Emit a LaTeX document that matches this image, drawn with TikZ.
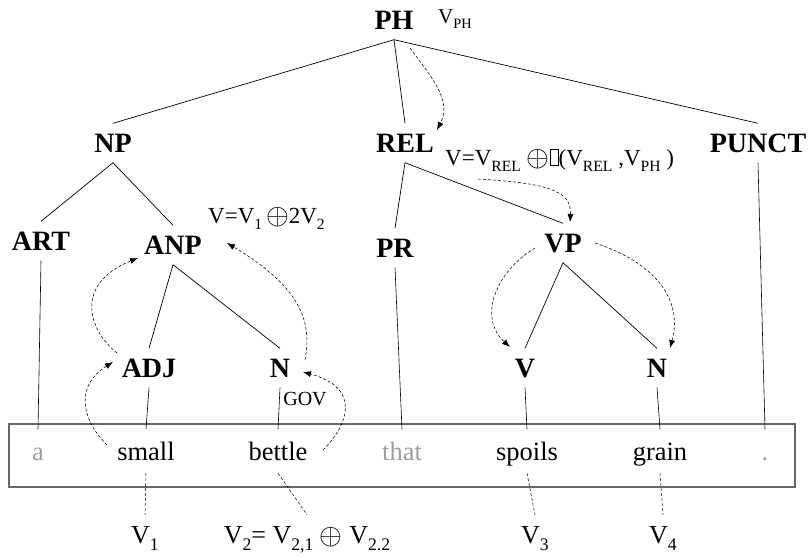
\documentclass[tikz,border=0pt]{standalone}
\usepackage{fontspec}
\setmainfont{Liberation Serif}
\usetikzlibrary{arrows.meta}
\definecolor{boxgray}{gray}{0.4}
\definecolor{wordgray}{gray}{0.62}
\newcommand{\dn}[1]{\raisebox{-0.28em}{\scalebox{0.68}{#1}}}
\newcommand{\opl}{\raisebox{-0.06em}{\scalebox{1.18}{$\oplus$}}}
\tikzset{
  cat/.style={font=\fontsize{28}{30}\selectfont\bfseries, text height=19pt, text depth=0pt, inner xsep=0pt, inner ysep=10pt},
  word/.style={font=\fontsize{26.5}{30}\selectfont, anchor=base, text height=18.5pt, text depth=1pt, inner xsep=0pt, inner ysep=12pt},
  val/.style={font=\fontsize{26}{30}\selectfont, anchor=base, text height=18pt, text depth=7pt, inner xsep=0pt, inner ysep=10pt},
  formula/.style={font=\fontsize{23}{26}\selectfont, anchor=base west, inner sep=0pt},
  tree/.style={line width=0.7pt},
  tie/.style={line width=0.6pt},
  flow/.style={line width=0.55pt, dash pattern=on 3pt off 2pt, -{Latex[length=8pt,width=6pt]}},
  below dash/.style={line width=0.5pt, dash pattern=on 3pt off 2pt}
}
\begin{document}
\begin{tikzpicture}[x=1pt,y=-1pt]
\useasboundingbox (0,0) rectangle (808,555);

% category nodes
\node[cat] (PH) at (394,20) {PH};
\node[formula, font=\fontsize{21}{24}\selectfont] (VPH) at (438,23) {V\dn{PH}};
\node[cat] (NP) at (113,143) {NP};
\node[cat] (REL) at (405,143) {REL};
\node[cat] (PUNCT) at (758,143) {PUNCT};
\node[cat] (ART) at (41,241) {ART};
\node[cat] (ANP) at (173,245) {ANP};
\node[cat] (PR) at (395,248) {PR};
\node[cat] (VP) at (563,243) {VP};
\node[cat] (ADJ) at (149,368) {ADJ};
\node[cat] (N1) at (280,368) {N};
\node[cat] (V) at (525,368) {V};
\node[cat] (N2) at (657,368) {N};
\node[font=\fontsize{20}{24}\selectfont, inner sep=0pt] (GOV) at (305,399) {GOV};

% formulas
\node[formula] (fANP) at (208,223) {V=V\dn{1}\,\opl2V\dn{2}};
\node[formula] (fREL) at (445,165) {V=V\dn{REL} \opl{\fboxsep=0pt\fboxrule=0.6pt\fbox{\rule{0pt}{15pt}\hspace{8pt}}}(V\dn{REL} ,V\dn{PH} )};

% sentence box
\draw[boxgray, line width=1.2pt] (9,424) rectangle (795,487);
\node[word, text=wordgray] (wa) at (38,460) {a};
\node[word] (wsmall) at (146,460) {small};
\node[word] (wbettle) at (278,460) {bettle};
\node[word, text=wordgray] (wthat) at (402,460) {that};
\node[word] (wspoils) at (527,460) {spoils};
\node[word] (wgrain) at (660,460) {grain};
\node[word, text=wordgray] (wdot) at (765,460) {.};

% values
\node[val] (v1) at (145,543) {V\dn{1}};
\node[val] (v2) at (307,543) {V\dn{2}= V\dn{2,1} \opl{} V\dn{2.2}};
\node[val] (v3) at (535,543) {V\dn{3}};
\node[val] (v4) at (663,543) {V\dn{4}};

% tree edges
\draw[tree] (PH.south) -- (NP.north);
\draw[tree] (PH.south) -- (REL.north);
\draw[tree] (PH.south) -- (PUNCT.north);
\draw[tree] (NP.south) -- (ART.north);
\draw[tree] (NP.south) -- (ANP.north);
\draw[tree] (REL.south) -- (PR.north);
\draw[tree] (REL.south) -- (VP.north);
\draw[tree] (ANP.south) -- (ADJ.north);
\draw[tree] (ANP.south) -- (N1.north);
\draw[tree] (VP.south) -- (V.north);
\draw[tree] (VP.south) -- (N2.north);

% ties to words
\draw[tie] (ART.south) -- (wa.north);
\draw[tie] (ADJ.south) -- (wsmall.north);
\draw[tie] (N1.south) -- (wbettle.north);
\draw[tie] (PR.south) -- (wthat.north);
\draw[tie] (V.south) -- (wspoils.north);
\draw[tie] (N2.south) -- (wgrain.north);
\draw[tie] (PUNCT.south) -- (wdot.north);

% dashed ties to values
\draw[below dash] (wsmall.south) -- (v1.north);
\draw[below dash] (wbettle.south) -- (v2.north);
\draw[below dash] (wspoils.south) -- (v3.north);
\draw[below dash] (wgrain.south) -- (v4.north);

% flow arrows (curved, dashed)
\coordinate (s1) at (107,445); \coordinate (e1) at (113,362);
\coordinate (s2) at (117,353); \coordinate (e2) at (138,258);
\coordinate (s3) at (323,450); \coordinate (e3) at (303,372);
\coordinate (s4) at (305,360); \coordinate (e4) at (227,243);
\coordinate (s5) at (410,48);  \coordinate (e5) at (437,130);
\coordinate (s6) at (478,179); \coordinate (e6) at (570,222);
\coordinate (s7) at (535,248); \coordinate (e7) at (510,347);
\coordinate (s8) at (595,243); \coordinate (e8) at (670,348);

\draw[flow] (s1) .. controls (80,418) and (76,385) .. (e1);
\draw[flow] (s2) .. controls (88,330) and (74,284) .. (e2);
\draw[flow] (s3) .. controls (348,425) and (362,388) .. (e3);
\draw[flow] (s4) .. controls (312,322) and (302,288) .. (e4);
\draw[flow] (s5) .. controls (432,78) and (452,100) .. (e5);
\draw[flow] (s6) .. controls (545,183) and (572,190) .. (e6);
\draw[flow] (s7) .. controls (495,272) and (478,318) .. (e7);
\draw[flow] (s8) .. controls (662,265) and (682,305) .. (e8);
\end{tikzpicture}
\end{document}
